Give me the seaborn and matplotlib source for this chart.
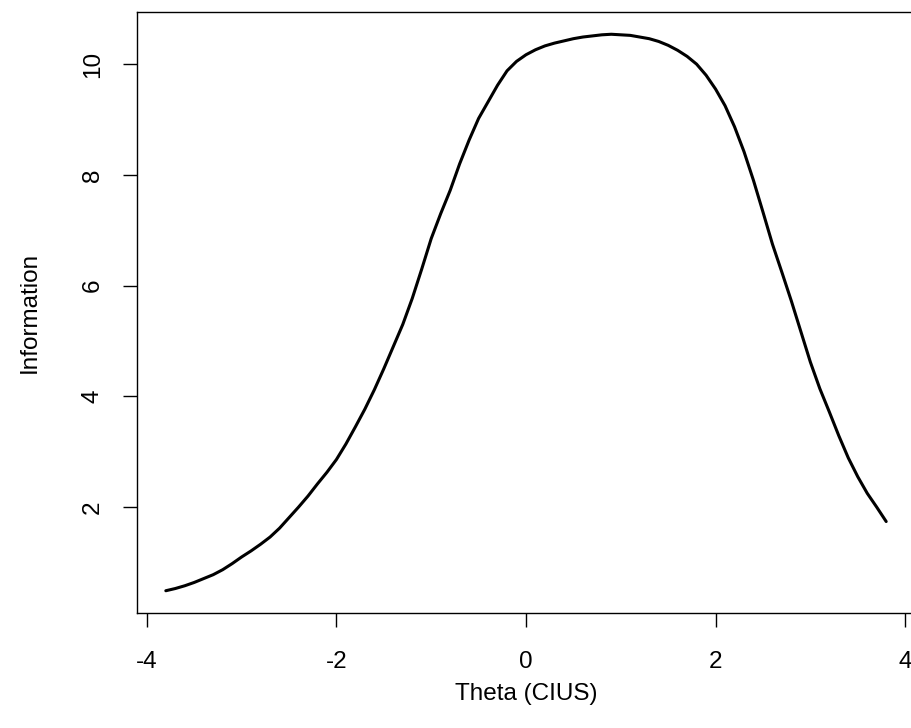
import numpy as np
import pandas as pd
import matplotlib
matplotlib.use("Agg")
import matplotlib.pyplot as plt
import seaborn as sns

# test information curve (step 0.1)
theta = [-3.8, -3.7, -3.6, -3.5, -3.4, -3.3, -3.2, -3.1, -3.0, -2.9,
         -2.8, -2.7, -2.6, -2.5, -2.4, -2.3, -2.2, -2.1, -2.0, -1.9,
         -1.8, -1.7, -1.6, -1.5, -1.4, -1.3, -1.2, -1.1, -1.0, -0.9,
         -0.8, -0.7, -0.6, -0.5, -0.4, -0.3, -0.2, -0.1, 0.0, 0.1,
         0.2, 0.3, 0.4, 0.5, 0.6, 0.7, 0.8, 0.9, 1.0, 1.1,
         1.2, 1.3, 1.4, 1.5, 1.6, 1.7, 1.8, 1.9, 2.0, 2.1,
         2.2, 2.3, 2.4, 2.5, 2.6, 2.7, 2.8, 2.9, 3.0, 3.1,
         3.2, 3.3, 3.4, 3.5, 3.6, 3.7, 3.8]
information = [0.49, 0.53, 0.58, 0.64, 0.71, 0.78, 0.87, 0.98, 1.10, 1.21,
               1.33, 1.46, 1.62, 1.81, 2.00, 2.20, 2.42, 2.63, 2.86, 3.14,
               3.45, 3.77, 4.12, 4.50, 4.90, 5.30, 5.77, 6.30, 6.85, 7.30,
               7.72, 8.20, 8.63, 9.02, 9.32, 9.62, 9.88, 10.05, 10.17, 10.26,
               10.33, 10.38, 10.42, 10.46, 10.49, 10.51, 10.53, 10.54, 10.53, 10.52,
               10.49, 10.46, 10.41, 10.34, 10.25, 10.14, 10.00, 9.80, 9.55, 9.25,
               8.87, 8.42, 7.90, 7.33, 6.75, 6.24, 5.72, 5.17, 4.62, 4.14,
               3.72, 3.29, 2.89, 2.55, 2.25, 2.00, 1.74]
xticks = [-4, -2, 0, 2, 4]
yticks = [2, 4, 6, 8, 10]

df = pd.DataFrame({"theta": theta, "info": information})

sns.set_theme(style="white")
plt.rcParams["font.family"] = ["Liberation Sans", "DejaVu Sans"]

fig = plt.figure(figsize=(9.12, 7.28), dpi=100)
# box runs a little past the right edge, like the cropped R plot
ax = fig.add_axes([137 / 912, 115 / 728, 778 / 912, 601 / 728])

sns.lineplot(data=df, x="theta", y="info", color="black", lw=2.2, ax=ax)

# R style 4% padding
xr = max(theta) - min(theta)
yr = max(information) - min(information)
ax.set_xlim(min(theta) - 0.04 * xr, max(theta) + 0.04 * xr)
ax.set_ylim(min(information) - 0.04 * yr, max(information) + 0.04 * yr)

ax.set_xticks(xticks)
ax.set_yticks(yticks)
ax.set_xticklabels([str(t) for t in xticks])
ax.set_yticklabels([str(t) for t in yticks], rotation=90, va="center")
ax.tick_params(axis="both", direction="out", length=10, width=1,
               color="black", labelsize=17.5, labelcolor="black", pad=14,
               bottom=True, left=True)
ax.tick_params(axis="x", pad=17)

for s in ax.spines.values():
    s.set_color("black")
    s.set_linewidth(1.0)

ax.set_xlabel("Theta (CIUS)", fontsize=17.5, color="black")
ax.set_ylabel("Information", fontsize=17.5, color="black")
ax.xaxis.set_label_coords(0.5, -0.135)
ax.xaxis.label.set_va("center")
ax.yaxis.set_label_coords(-0.1375, 0.5)
ax.yaxis.label.set_va("center")

fig.savefig("out.png", dpi=100)
